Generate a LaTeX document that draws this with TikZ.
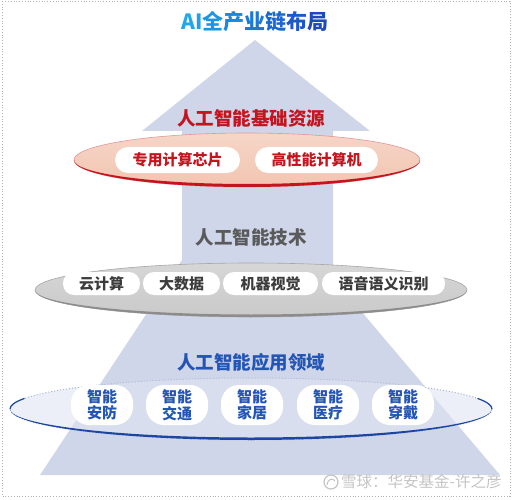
\documentclass[tikz,border=0pt]{standalone}
\usepackage{fontspec}
\setmainfont{Noto Sans CJK SC}
\usetikzlibrary{
    positioning,
    shapes.geometric
    }

\definecolor{arrowblue}{RGB}{208,214,234}
\definecolor{resred}{RGB}{196,20,30}
\definecolor{respeach}{RGB}{242,196,176}
\definecolor{techgray}{RGB}{90,90,90}
\definecolor{techdark}{RGB}{60,60,60}
\definecolor{appblue}{RGB}{35,85,180}
\definecolor{appdark}{RGB}{28,70,160}
\definecolor{markgray}{RGB}{196,196,196}

\begin{document}
\begin{tikzpicture}[x=1pt, y=-1pt]
\tikzset{arrowbody/.style =
        {
            fill=arrowblue
        }
}

\tikzset{layer title/.style =
        {
            font=\bfseries\fontsize{18.5}{18.5}\selectfont,
            inner sep=0pt
        }
}

\tikzset{pill/.style =
        {
            rectangle,
            rounded corners=11pt,
            fill=white,
            inner sep=0pt,
            minimum height=24pt,
            font=\bfseries\fontsize{15}{15}\selectfont
        }
}

\tikzset{res pill/.style = { pill, text=resred, minimum height=26pt, rounded corners=13pt } }

\tikzset{tech pill/.style = { pill, text=techdark, minimum height=23pt } }

\tikzset{app pill/.style =
        {
            pill,
            text=appblue,
            minimum width=62pt,
            minimum height=40pt,
            rounded corners=18pt,
            align=center,
            font=\bfseries\fontsize{15}{16.5}\selectfont
        }
}

\tikzset{framedot/.style =
        {
            gray!60,
            dotted,
            line width=0.8pt
        }
}
		\useasboundingbox (0,0) rectangle (514,500);
		\draw [framedot] (2,1) rectangle (510,496);

		% light face of the application ring, under the arrow
		\fill [arrowblue!50] (251,409) ellipse [x radius=241, y radius=31];

		% big arrow behind the layers
		\fill [arrowbody] (255,40) -- (370,131) -- (333,131) -- (333,278) -- (500,475)
		-- (40,475) -- (182,260) -- (182,131) -- (142,131) -- cycle;

		\node [inner sep=0pt, font=\bfseries\fontsize{21}{21}\selectfont] (title) at (255,22)
		{\textcolor[RGB]{34,168,232}{A}\textcolor[RGB]{32,160,230}{I}\textcolor[RGB]{29,150,226}{全}\textcolor[RGB]{27,136,220}{产}\textcolor[RGB]{26,120,214}{业}\textcolor[RGB]{26,104,206}{链}\textcolor[RGB]{28,88,200}{布}\textcolor[RGB]{30,72,192}{局}};

		% resources layer
		\node [layer title, text=resred] (res) at (251,118) {人工智能基础资源};
		\shade [top color=respeach!70, bottom color=respeach, draw=resred!45, line width=0.6pt]
		(247,160) ellipse [x radius=173, y radius=27];
		\fill [resred] (74,160) arc [start angle=180, end angle=0, x radius=173, y radius=27]
		arc [start angle=0, end angle=180, x radius=173, y radius=24];
		\node [res pill, minimum width=125pt] (chip) at (177.5,160) {专用计算芯片};
		\node [res pill, minimum width=123pt] (hpc) at (316.5,160) {高性能计算机};

		% technology layer
		\node [layer title, text=techgray] (tech) at (251,237) {人工智能技术};
		\shade [top color=gray!32, bottom color=gray!42, draw=gray!70, line width=0.6pt]
		(251,290) ellipse [x radius=216, y radius=27];
		\fill [gray!110!black] (35,290) arc [start angle=180, end angle=0, x radius=216, y radius=27]
		arc [start angle=0, end angle=180, x radius=216, y radius=24.5];
		\foreach \x / \w / \txt / \name in
			{101.5/77/云计算/cloud,
				181.5/77/大数据/bigdata,
				270.5/95/机器视觉/vision,
				383.5/123/语音语义识别/speech}
		\node [tech pill, minimum width=\w pt] (\name) at (\x,283.5) {\txt};

		% application layer
		\node [layer title, text=appblue] (app) at (251,362) {人工智能应用领域};
		\fill [white, opacity=0.2] (251,409) ellipse [x radius=241, y radius=31];
		\draw [appdark!40, dotted, line width=1pt] (251,409) ellipse [x radius=241, y radius=31];
		\fill [appdark] (10,409) arc [start angle=180, end angle=0, x radius=241, y radius=31]
		arc [start angle=0, end angle=180, x radius=241, y radius=28.5];
		\draw [appdark, line width=1.2pt] (10,409) arc [start angle=180, end angle=200, x radius=241, y radius=31];
		\draw [appdark, line width=1.2pt] (492,409) arc [start angle=0, end angle=-20, x radius=241, y radius=31];
		\foreach \x / \txt / \name in
			{102/安防/security,
				177/交通/traffic,
				252/家居/home,
				328/医疗/medical,
				403/穿戴/wearable}
		\node [app pill] (\name) at (\x,405) {智能\\\txt};

		% watermark
		\draw [markgray, line width=1.2pt] (331,482) circle [radius=7];
		\draw [markgray, line width=1pt] (327,485) .. controls (328,478) and (333,478) .. (335,481);
		\node [anchor=west, inner sep=0pt, text=markgray, font=\fontsize{15.5}{15.5}\selectfont] (mark) at (341,482) {雪球：华安基金-许之彦};

	\end{tikzpicture}
\end{document}
